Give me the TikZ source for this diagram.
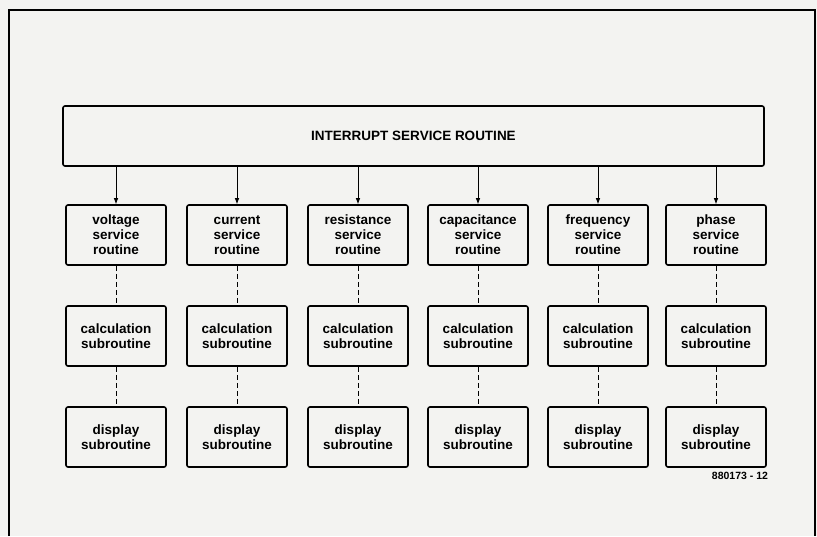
\documentclass[tikz,border=0pt]{standalone}
\usepackage{fontspec}
\setmainfont{Liberation Sans}
\usetikzlibrary{arrows,arrows.meta,positioning}
\definecolor{paper}{RGB}{243,243,241}

\begin{document}
\begin{tikzpicture}[x=1pt,y=-1pt,
  routine/.style={draw,line width=1.6pt,rounded corners=2pt,minimum width=100pt,minimum height=60pt,
    align=center,inner sep=2pt,font=\fontsize{13.5}{15}\selectfont\bfseries},
  call/.style={-{Latex[length=6pt,width=4.5pt]},line width=0.8pt},
  link/.style={line width=0.7pt,dash pattern=on 5pt off 3pt}]
\useasboundingbox[fill=paper] (0,0) rectangle (817,536);
\draw[line width=1.3pt] (9,536) -- (9,10) -- (815,10) -- (815,536);
\node[routine,minimum width=701pt] (isr) at (413.5,136) {INTERRUPT SERVICE ROUTINE};
% service routines
\node[routine] (volt) at (116,235) {voltage\\service\\routine};
\node[routine] (curr) at (237,235) {current\\service\\routine};
\node[routine] (res) at (358,235) {resistance\\service\\routine};
\node[routine] (cap) at (478,235) {capacitance\\service\\routine};
\node[routine] (freq) at (598,235) {frequency\\service\\routine};
\node[routine] (phase) at (716,235) {phase\\service\\routine};
% calculation
\node[routine] (voltcalc) at (116,336) {calculation\\subroutine};
\node[routine] (currcalc) at (237,336) {calculation\\subroutine};
\node[routine] (rescalc) at (358,336) {calculation\\subroutine};
\node[routine] (capcalc) at (478,336) {calculation\\subroutine};
\node[routine] (freqcalc) at (598,336) {calculation\\subroutine};
\node[routine] (phasecalc) at (716,336) {calculation\\subroutine};
% display
\node[routine] (voltdisp) at (116,437) {display\\subroutine};
\node[routine] (currdisp) at (237,437) {display\\subroutine};
\node[routine] (resdisp) at (358,437) {display\\subroutine};
\node[routine] (capdisp) at (478,437) {display\\subroutine};
\node[routine] (freqdisp) at (598,437) {display\\subroutine};
\node[routine] (phasedisp) at (716,437) {display\\subroutine};
\node[font=\fontsize{10.5}{12}\selectfont\bfseries] (fignum) at (740,476) {880173 - 12};
\draw[call] (isr.south -| volt) -- (volt);
\draw[call] (isr.south -| curr) -- (curr);
\draw[call] (isr.south -| res) -- (res);
\draw[call] (isr.south -| cap) -- (cap);
\draw[call] (isr.south -| freq) -- (freq);
\draw[call] (isr.south -| phase) -- (phase);
\draw[link] (volt) -- (voltcalc) -- (voltdisp);
\draw[link] (curr) -- (currcalc) -- (currdisp);
\draw[link] (res) -- (rescalc) -- (resdisp);
\draw[link] (cap) -- (capcalc) -- (capdisp);
\draw[link] (freq) -- (freqcalc) -- (freqdisp);
\draw[link] (phase) -- (phasecalc) -- (phasedisp);
\end{tikzpicture}
\end{document}
